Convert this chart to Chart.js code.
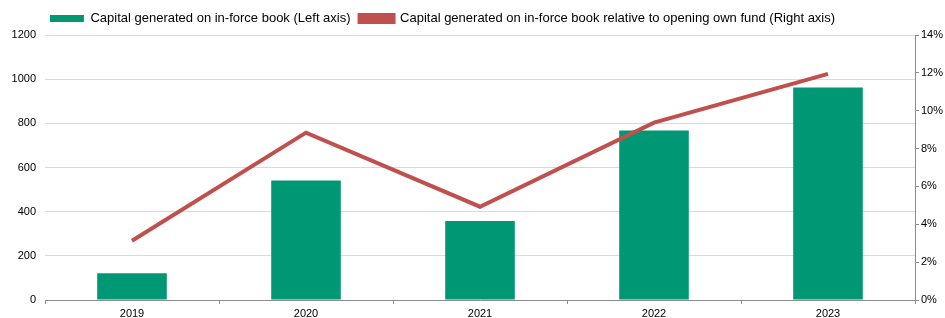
<!DOCTYPE html>
<html>
<head>
<meta charset="utf-8">
<script src="https://cdn.jsdelivr.net/npm/chart.js@4"></script>
<style>
  html, body { margin: 0; padding: 0; background: #fff; }
  #wrap { width: 945px; height: 318px; }
</style>
</head>
<body>
<div id="wrap"><canvas id="chart"></canvas></div>
<script>
// data
const years = ["2019", "2020", "2021", "2022", "2023"];
const capitalGenerated = [121, 541, 358, 768, 962];          // left axis
const capitalRelative = [3.13, 8.84, 4.93, 9.37, 11.95];     // right axis, %
const leftTicks = [0, 200, 400, 600, 800, 1000, 1200];
const rightTicks = [0, 2, 4, 6, 8, 10, 12, 14];

const green = "#009874";
const red = "#C0504D";
const axisGray = "#8c8c8c";
const font = "Liberation Sans, Arial, sans-serif";

// the legend sits a little left of centre in the reference
const legendShift = {
    id: "legendShift",
    afterLayout(chart) {
        chart.legend.left -= 30;
        chart.legend.right -= 30;
    }
};

const ctx = document.getElementById("chart").getContext("2d");

const chart = new Chart(ctx, {
    type: "bar",
    data: {
        labels: years,
        datasets: [
            {
                type: "line",
                label: "Capital generated on in-force book relative to opening own fund (Right axis)",
                data: capitalRelative,
                yAxisID: "y1",
                borderColor: red,
                backgroundColor: red,
                borderWidth: 4,
                pointRadius: 0,
                tension: 0,
                order: 1
            },
            {
                label: "Capital generated on in-force book (Left axis)",
                data: capitalGenerated,
                yAxisID: "y",
                backgroundColor: green,
                borderWidth: 0,
                categoryPercentage: 1,
                barPercentage: 0.4,
                order: 2
            }
        ]
    },
    options: {
        responsive: true,
        maintainAspectRatio: false,
        animation: false,
        layout: { padding: { top: 3, left: 0, right: 0, bottom: 0 } },
        plugins: {
            tooltip: { enabled: false },
            legend: {
                position: "top",
                reverse: true,
                labels: {
                    color: "#000",
                    font: { family: font, size: 13 },
                    boxWidth: 34,
                    boxHeight: 7,
                    padding: 9
                }
            }
        },
        scales: {
            x: {
                grid: {
                    offset: true,
                    drawOnChartArea: false,
                    drawTicks: true,
                    tickLength: 4,
                    color: axisGray
                },
                border: { display: true, color: axisGray },
                ticks: {
                    color: "#000",
                    font: { family: font, size: 11 },
                    padding: 3
                },
                afterFit: s => { s.height = 18; }
            },
            y: {
                position: "left",
                min: 0,
                max: 1200,
                afterBuildTicks: s => { s.ticks = leftTicks.map(v => ({ value: v })); },
                grid: { color: "#d9d9d9", drawTicks: false },
                border: { display: false },
                ticks: {
                    color: "#000",
                    font: { family: font, size: 11 },
                    padding: 9,
                    callback: v => String(v)
                },
                afterFit: s => { s.width = 45; }
            },
            y1: {
                position: "right",
                min: 0,
                max: 14,
                afterBuildTicks: s => { s.ticks = rightTicks.map(v => ({ value: v })); },
                grid: {
                    drawOnChartArea: false,
                    drawTicks: true,
                    tickLength: 4,
                    color: axisGray
                },
                border: { display: true, color: axisGray },
                ticks: {
                    color: "#000",
                    font: { family: font, size: 11 },
                    padding: 2,
                    callback: v => v + "%"
                },
                afterFit: s => { s.width = 30; }
            }
        }
    },
    plugins: [legendShift]
});
</script>
</body>
</html>
